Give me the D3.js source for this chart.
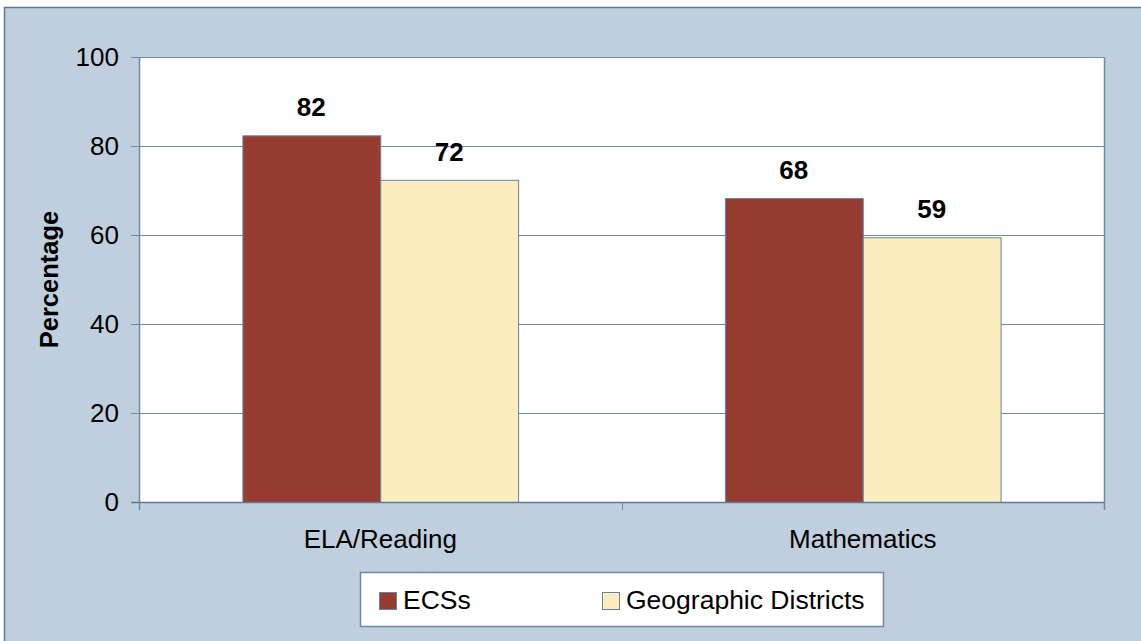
<!DOCTYPE html>
<html>
<head>
<meta charset="utf-8">
<script src="https://cdn.jsdelivr.net/npm/d3@7"></script>
<style>
  body { margin: 0; background: #fff; }
  text { font-family: "Liberation Sans", Arial, sans-serif; }
</style>
</head>
<body>
<svg width="1141" height="641"></svg>
<script>
// data
const categories = ["ELA/Reading", "Mathematics"];
const seriesNames = ["ECSs", "Geographic Districts"];
const ecsValues = [82.4, 68.3];
const districtValues = [72.4, 59.5];
const yTicks = [0, 20, 40, 60, 80, 100];

const seriesValues = [ecsValues, districtValues];
const colors = ["#963c30", "#fcedbe"];

const svg = d3.select("svg");

// layout
const margin = { left: 139, right: 37, top: 57, bottom: 139 };
const width = 1141 - margin.left - margin.right;
const height = 641 - margin.top - margin.bottom;

// outer panel
svg.append("rect")
  .attr("x", 4.5).attr("y", 7.5)
  .attr("width", 1150).attr("height", 650)
  .attr("fill", "#bfcfdd")
  .attr("stroke", "#5f7a94")
  .attr("stroke-width", 1.5);

const g = svg.append("g").attr("transform", `translate(${margin.left},${margin.top})`);

const x0 = d3.scaleBand().domain(categories).range([0, width]).padding(0);
const x1 = d3.scaleBand().domain(seriesNames).range([0, x0.bandwidth()])
  .paddingInner(0).paddingOuter(0.75);
const y = d3.scaleLinear().domain([0, 100]).range([height, 0]);

// plot area
g.append("rect")
  .attr("width", width).attr("height", height)
  .attr("fill", "#fff");

// gridlines
g.selectAll(".grid")
  .data(yTicks)
  .join("line")
  .attr("x1", -8).attr("x2", width)
  .attr("y1", d => Math.round(y(d)) + 0.5).attr("y2", d => Math.round(y(d)) + 0.5)
  .attr("stroke", "#6f8aa4")
  .attr("stroke-width", 1);

// y tick labels
g.selectAll(".ylab")
  .data(yTicks)
  .join("text")
  .attr("x", -20)
  .attr("y", d => y(d))
  .attr("dy", "0.35em")
  .attr("text-anchor", "end")
  .attr("font-size", "26px")
  .attr("fill", "#000")
  .text(d => d);

// bars
const groups = g.selectAll(".cat")
  .data(categories)
  .join("g")
  .attr("transform", d => `translate(${x0(d)},0)`);

groups.selectAll("rect")
  .data((d, i) => seriesNames.map((s, j) => ({ s, v: seriesValues[j][i], j })))
  .join("rect")
  .attr("x", d => x1(d.s) + 0.5)
  .attr("y", d => y(d.v) + 0.5)
  .attr("width", x1.bandwidth())
  .attr("height", d => height - y(d.v))
  .attr("fill", d => colors[d.j])
  .attr("stroke", "#6a84a0")
  .attr("stroke-width", 1);

groups.selectAll("text")
  .data((d, i) => seriesNames.map((s, j) => ({ s, v: seriesValues[j][i] })))
  .join("text")
  .attr("x", d => x1(d.s) + x1.bandwidth() / 2)
  .attr("y", d => y(d.v) - 19)
  .attr("text-anchor", "middle")
  .attr("font-size", "26px")
  .attr("font-weight", "bold")
  .text(d => Math.floor(d.v));

// axes lines
g.append("line")
  .attr("x1", 0.5).attr("x2", 0.5).attr("y1", 0).attr("y2", height + 8)
  .attr("stroke", "#6f8aa4").attr("stroke-width", 1.5);
g.append("line")
  .attr("x1", width + 0.5).attr("x2", width + 0.5).attr("y1", 0).attr("y2", height + 8)
  .attr("stroke", "#6f8aa4").attr("stroke-width", 1.5);
g.append("line")
  .attr("x1", -8).attr("x2", width).attr("y1", height + 0.5).attr("y2", height + 0.5)
  .attr("stroke", "#5f7a94").attr("stroke-width", 1.5);

// category boundary ticks
const bounds = categories.map(c => x0(c)).concat([width]);
g.selectAll(".xtick")
  .data(bounds)
  .join("line")
  .attr("x1", d => Math.round(d) + 0.5).attr("x2", d => Math.round(d) + 0.5)
  .attr("y1", height).attr("y2", height + 8)
  .attr("stroke", "#6f8aa4");

// category labels
g.selectAll(".xlab")
  .data(categories)
  .join("text")
  .attr("x", d => x0(d) + x0.bandwidth() / 2)
  .attr("y", height + 46)
  .attr("text-anchor", "middle")
  .attr("font-size", "26px")
  .text(d => d);

// y title
svg.append("text")
  .attr("transform", `translate(58,${margin.top + height / 2}) rotate(-90)`)
  .attr("text-anchor", "middle")
  .attr("font-size", "25.5px")
  .attr("font-weight", "bold")
  .text("Percentage");

// legend
const legend = svg.append("g").attr("transform", "translate(360,572)");
legend.append("rect")
  .attr("x", 0.5).attr("y", 0.5)
  .attr("width", 523).attr("height", 54)
  .attr("fill", "#fff")
  .attr("stroke", "#6f8aa4")
  .attr("stroke-width", 1.5);

const legendX = [19, 242];
const items = legend.selectAll(".item")
  .data(seriesNames)
  .join("g")
  .attr("transform", (d, i) => `translate(${legendX[i]},0)`);
items.append("rect")
  .attr("x", 0.5).attr("y", 20.5)
  .attr("width", 17).attr("height", 17)
  .attr("fill", (d, i) => colors[i])
  .attr("stroke", "#6a84a0");
items.append("text")
  .attr("x", 24)
  .attr("y", 37)
  .attr("font-size", "26.5px")
  .text(d => d);
</script>
</body>
</html>
